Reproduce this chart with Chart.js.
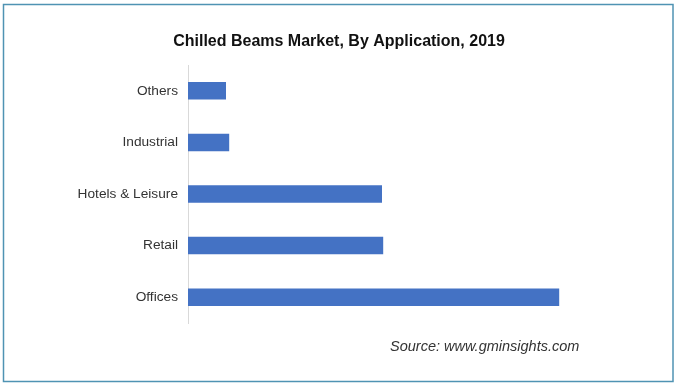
<!DOCTYPE html>
<html>
<head>
<meta charset="utf-8">
<script src="https://cdn.jsdelivr.net/npm/chart.js@4"></script>
<style>
html,body{margin:0;padding:0;background:#fff;}
#wrap{width:680px;height:388px;position:relative;}
</style>
</head>
<body>
<div id="wrap"><canvas id="c" width="680" height="388"></canvas></div>
<script>
const categories = ['Others', 'Industrial', 'Hotels & Leisure', 'Retail', 'Offices'];
const shareValues = [9.5, 10.3, 48.5, 48.8, 92.8];
const chartTitle = 'Chilled Beams Market, By Application, 2019';
const sourceText = 'Source: www.gminsights.com';

const framePlugin = {
  id: 'frame',
  afterDraw(chart) {
    const ctx = chart.ctx;
    ctx.save();
    ctx.strokeStyle = '#4f93b3';
    ctx.lineWidth = 1.5;
    ctx.strokeRect(3.5, 4.5, 669.5, 377);
    ctx.fillStyle = '#111';
    ctx.font = 'bold 16px "Liberation Sans", Arial, sans-serif';
    ctx.textAlign = 'center';
    ctx.textBaseline = 'middle';
    ctx.fillText(chartTitle, 339, 42);
    ctx.fillStyle = '#333';
    ctx.font = 'italic 14.5px "Liberation Sans", Arial, sans-serif';
    ctx.textAlign = 'left';
    ctx.fillText(sourceText, 390, 347);
    ctx.restore();
  }
};

new Chart(document.getElementById('c'), {
  type: 'bar',
  data: {
    labels: categories,
    datasets: [{
      data: shareValues,
      backgroundColor: '#4472c4',
      borderWidth: 0,
      categoryPercentage: 1,
      barPercentage: 0.34
    }]
  },
  options: {
    indexAxis: 'y',
    responsive: false,
    animation: false,
    devicePixelRatio: 1,
    layout: { padding: { left: 0, right: 92, top: 65, bottom: 65 } },
    plugins: { legend: { display: false }, title: { display: false }, tooltip: { enabled: false } },
    scales: {
      x: { display: false, min: 0, max: 100 },
      y: {
        afterFit(scale) { scale.width = 188; },
        grid: { display: true, drawOnChartArea: false, tickLength: 0 },
        border: { display: true, color: '#d9d9d9', width: 1 },
        ticks: {
          padding: 10,
          color: '#333',
          font: { family: '"Liberation Sans", Arial, sans-serif', size: 13.7 }
        }
      }
    }
  },
  plugins: [framePlugin]
});
</script>
</body>
</html>
